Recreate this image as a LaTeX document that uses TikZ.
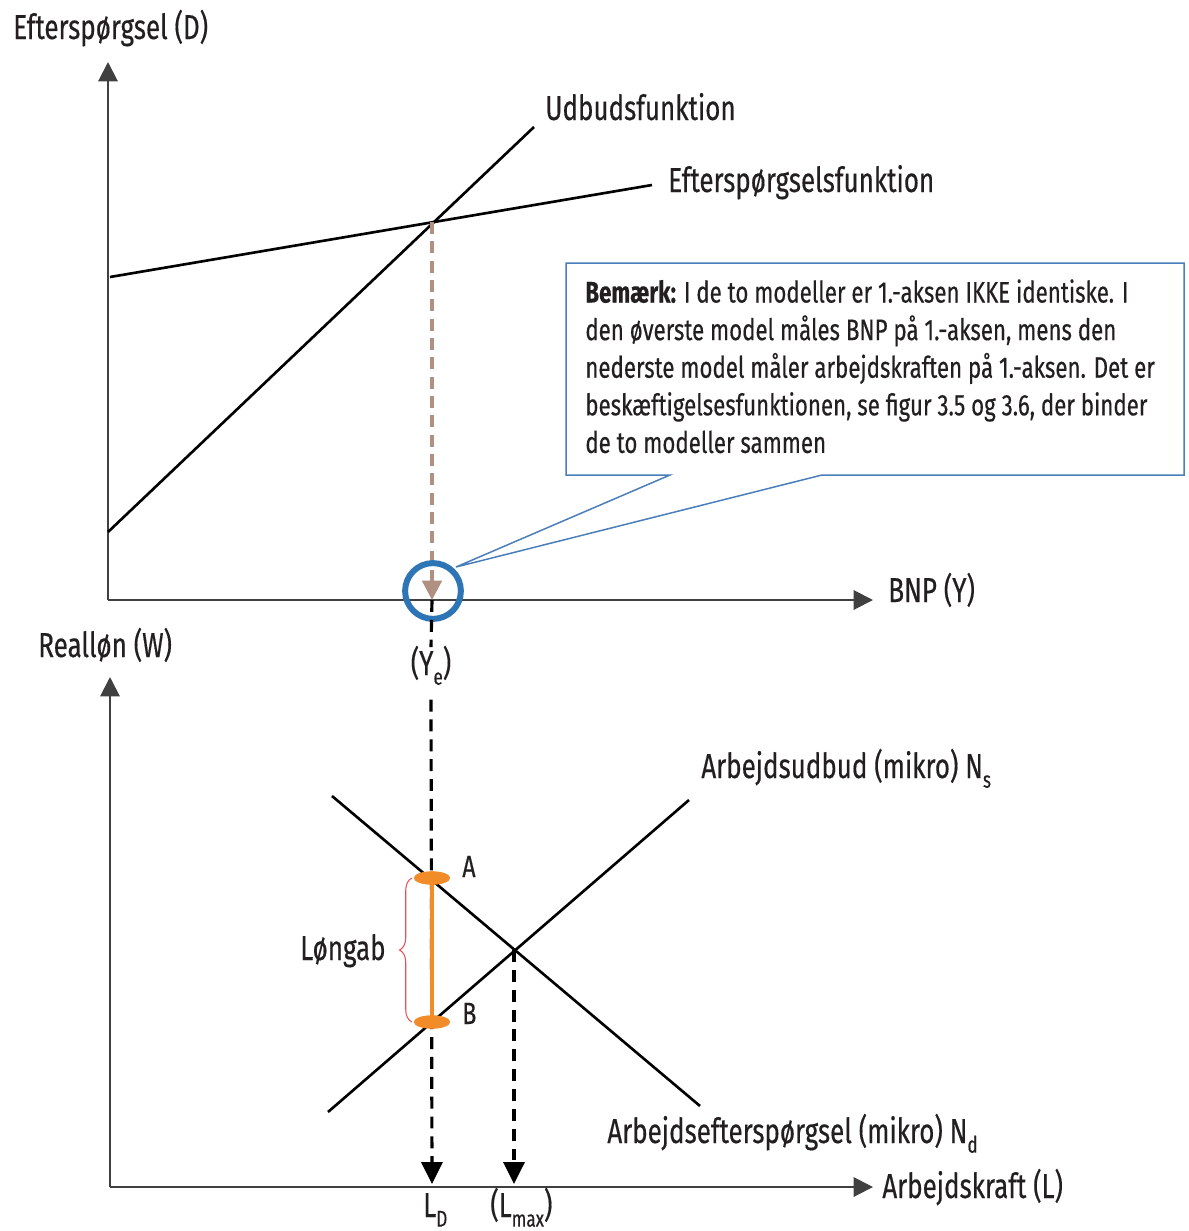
\documentclass[tikz,border=0pt]{standalone}
\usepackage{fontspec}
\setmainfont{Fira Sans}[FakeStretch=0.75,FakeBold=0.4]
\usetikzlibrary{arrows.meta,decorations.pathreplacing,shapes.geometric}
\definecolor{txt}{HTML}{231F20}
\definecolor{axisgray}{HTML}{404040}
\definecolor{calloutblue}{HTML}{2E75B6}
\definecolor{boxblue}{HTML}{4A7EBB}
\definecolor{dashbrown}{HTML}{B09080}
\definecolor{gaporange}{HTML}{F28C28}
\definecolor{bracered}{HTML}{E8505B}
\newcommand{\lsub}[1]{\raisebox{-5.5pt}{\fontsize{13}{13}\selectfont #1}}
\begin{document}
\begin{tikzpicture}[x=0.02cm,y=-0.02cm,
  lbl/.style={inner sep=0pt, anchor=base west, text=txt, font=\fontsize{19.7}{23}\selectfont},
  ptlbl/.style={inner sep=0pt, anchor=base west, text=txt, font=\fontsize{17.5}{20}\selectfont},
  axisline/.style={draw=axisgray, line width=1.15pt, -{Triangle[length=11pt,width=11pt]}},
  curve/.style={draw=black, line width=1.5pt},
  blackdash/.style={draw=black, line width=1.8pt, dash pattern=on 6.8pt off 4.5pt},
  blackdasharrow/.style={blackdash, -{Triangle[length=12.5pt,width=12pt]}},
  browndash/.style={draw=dashbrown, line width=2.1pt, dash pattern=on 6.8pt off 4.2pt, -{Triangle[length=11pt,width=11pt]}},
  ring/.style={circle, draw=calloutblue, line width=3.4pt, minimum size=56*0.567pt, inner sep=0pt},
  gapdot/.style={ellipse, fill=gaporange, minimum width=20.5pt, minimum height=7.5pt, inner sep=0pt},
  gapline/.style={draw=gaporange, line width=1.8pt},
  gapbrace/.style={draw=bracered, line width=0.6pt, decorate, decoration={brace, amplitude=7pt}},
  callout/.style={draw=boxblue, line width=0.85pt, fill=white, line join=miter}
]
\useasboundingbox (0,0) rectangle (1188,1231);

% ---------- top model ----------
\coordinate (O1) at (108,600);
\coordinate (Y1) at (108,62);
\coordinate (X1) at (873,600);
\draw[axisline] (O1) -- (Y1);
\draw[axisline] (O1) -- (X1);

\coordinate (S1) at (108,532);
\coordinate (S2) at (534,127);
\coordinate (D1) at (110,277);
\coordinate (D2) at (652,185);
\coordinate (E1) at (432,222);
\draw[curve] (S1) -- (S2);
\draw[curve] (D1) -- (D2);

\node[lbl] (ylab1) at (13,39) {Efterspørgsel (D)};
\node[lbl] (udbud) at (545,120) {Udbudsfunktion};
\node[lbl] (eftf) at (668,192) {Efterspørgselsfunktion};
\node[lbl] (bnp) at (888,602) {BNP (Y)};

\coordinate (Ye) at (432,600);
\draw[browndash] (E1) -- (Ye);
\node[ring] (circ) at (433,591) {};

% callout
\coordinate (tip) at (456,567);
\draw[callout] (566,263) -- (1184,263) -- (1184,475) -- (822,475) -- (tip) -- (670,475) -- (566,475) -- cycle;
\node[inner sep=0pt, anchor=north west, align=left, text=txt, font=\fontsize{16.9}{21.4}\selectfont] (note) at (585,279)
 {\textbf{Bemærk:} I de to modeller er 1.-aksen IKKE identiske. I\\
  den øverste model måles BNP på 1.-aksen, mens den\\
  nederste model måler arbejdskraften på 1.-aksen. Det er\\
  beskæftigelsesfunktionen, se figur 3.5 og 3.6, der binder\\
  de to modeller sammen};

% ---------- bottom model ----------
\coordinate (O2) at (110,1187);
\coordinate (Y2) at (110,677);
\coordinate (X2) at (873,1187);
\draw[axisline] (O2) -- (Y2);
\draw[axisline] (O2) -- (X2);

\node[lbl] (ylab2) at (38,657) {Realløn (W)};
\node[lbl] (ak) at (882,1198) {Arbejdskraft (L)};

\coordinate (NsA) at (328,1112);
\coordinate (NsB) at (689,800);
\coordinate (NdA) at (332,796);
\coordinate (NdB) at (700,1106);
\coordinate (E2) at (514,950);
\draw[curve] (NsA) -- (NsB);
\draw[curve] (NdA) -- (NdB);

\node[lbl] (nslab) at (701,778) {Arbejdsudbud (mikro) N\lsub{s}};
\node[lbl] (ndlab) at (607,1143) {Arbejdsefterspørgsel (mikro) N\lsub{d}};

% Y_e label and dashed drop lines
\node[lbl, anchor=base] (yelab) at (431,675) {(Y\lsub{e})};
\coordinate (LDtip) at (432,1184);
\coordinate (Lmaxtip) at (514,1184);
\draw[blackdash] (Ye) -- ([yshift=-1pt]yelab.north);
\draw[blackdasharrow] ([yshift=-14pt]yelab.base) -- (LDtip);
\draw[blackdasharrow] (E2) -- (Lmaxtip);

\node[lbl] (ld) at (423,1217) {L\lsub{D}};
\node[lbl] (lmax) at (490,1217) {(L\lsub{max})};

% wage gap
\node[gapdot] (A) at (432,878) {};
\node[gapdot] (B) at (432,1022) {};
\draw[gapline] (A.center) -- (B.center);
\node[gapdot] at (A) {};
\node[gapdot] at (B) {};
\draw[gapbrace] ([xshift=-1pt]B.west) -- ([xshift=-1pt]A.west);
\node[ptlbl] (Alab) at (462,877) {A};
\node[ptlbl] (Blab) at (462,1024) {B};
\node[lbl] (gab) at (300,960) {Løngab};
\end{tikzpicture}
\end{document}
